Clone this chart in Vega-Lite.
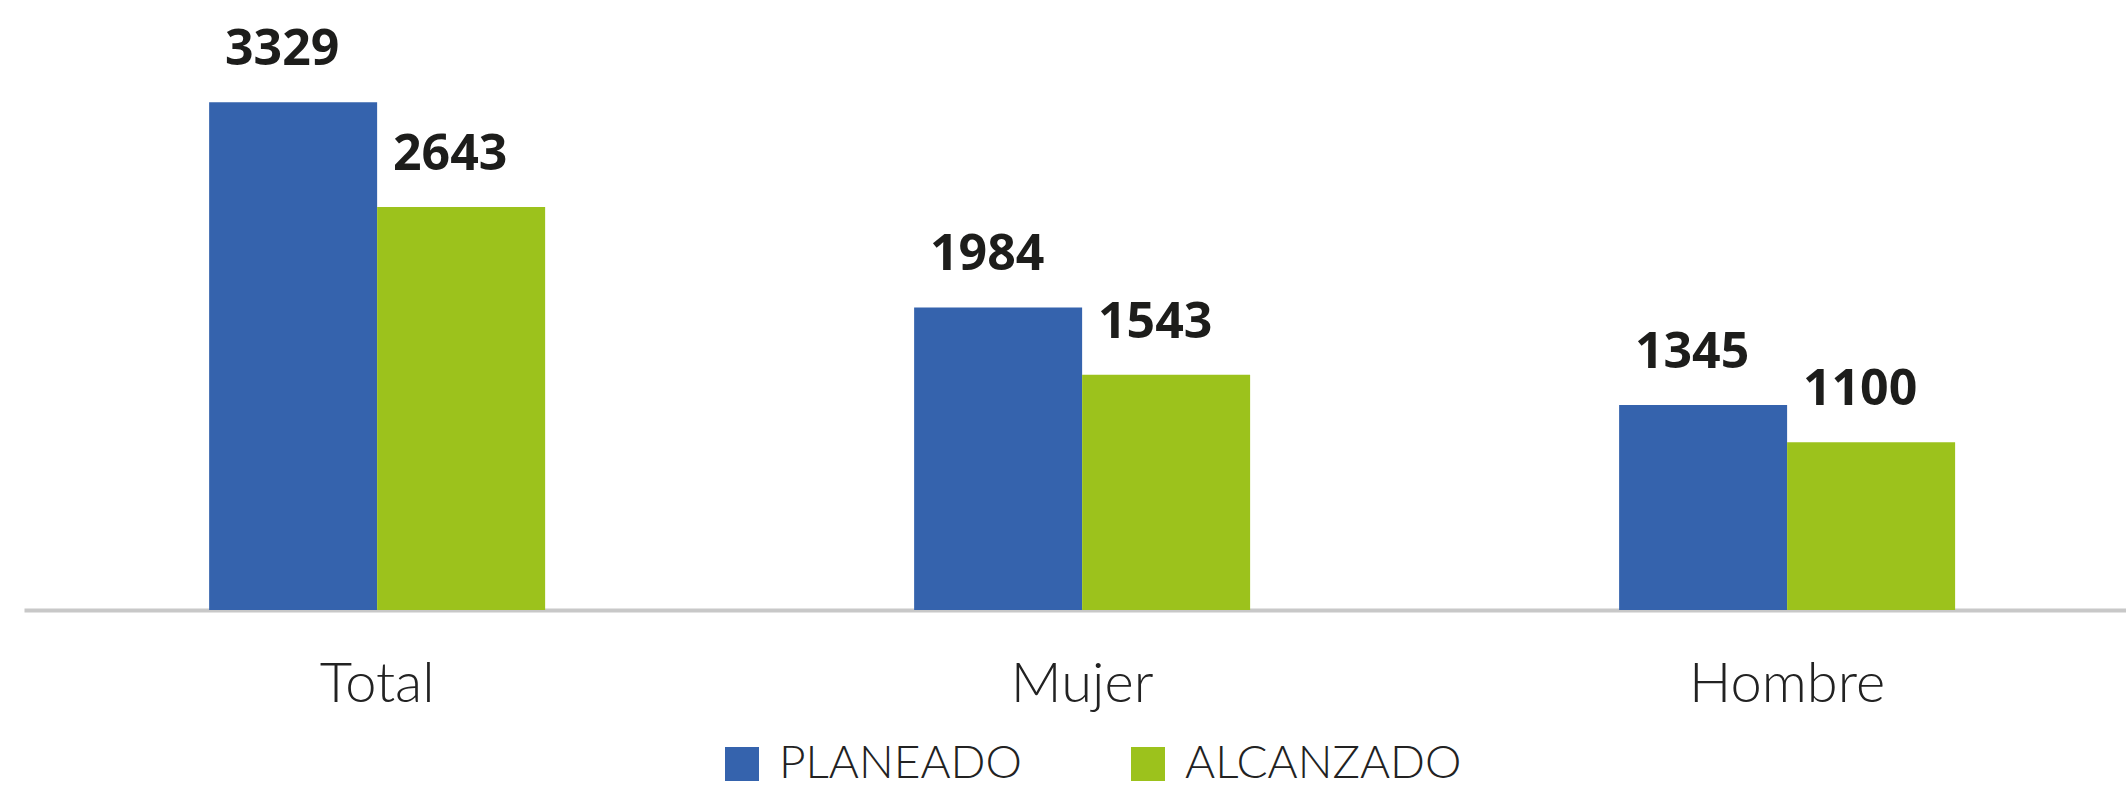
{
  "$schema": "https://vega.github.io/schema/vega-lite/v6.json",
  "width": 2102,
  "height": 549,
  "autosize": {"type": "none"},
  "padding": {"left": 24, "right": 0, "top": 61, "bottom": 180},
  "background": "white",
  "config": {"view": {"stroke": null}},
  "data": {
    "values": [
      {"categoria": "Total", "serie": "PLANEADO", "valor": 3329},
      {"categoria": "Total", "serie": "ALCANZADO", "valor": 2643},
      {"categoria": "Mujer", "serie": "PLANEADO", "valor": 1984},
      {"categoria": "Mujer", "serie": "ALCANZADO", "valor": 1543},
      {"categoria": "Hombre", "serie": "PLANEADO", "valor": 1345},
      {"categoria": "Hombre", "serie": "ALCANZADO", "valor": 1100}
    ]
  },
  "encoding": {
    "x": {
      "field": "categoria",
      "type": "nominal",
      "sort": ["Total", "Mujer", "Hombre"],
      "scale": {"paddingInner": 0.5234, "paddingOuter": 0.2525, "align": 0.52},
      "axis": {
        "title": null,
        "labelAngle": 0,
        "ticks": false,
        "tickSize": 0,
        "domainColor": "#c8c8c8",
        "domainWidth": 4,
        "labelFont": "Lato",
        "labelFontSize": 56,
        "labelFontWeight": 300,
        "labelColor": "#222222",
        "labelPadding": 91,
        "labelBaseline": "alphabetic",
        "labelLimit": 500
      }
    },
    "xOffset": {
      "field": "serie",
      "type": "nominal",
      "sort": ["PLANEADO", "ALCANZADO"],
      "scale": {"paddingInner": 0, "paddingOuter": 0}
    },
    "y": {
      "field": "valor",
      "type": "quantitative",
      "scale": {"domain": [0, 3600], "nice": false},
      "axis": null
    }
  },
  "layer": [
    {
      "mark": {"type": "bar"},
      "encoding": {
        "color": {
          "field": "serie",
          "type": "nominal",
          "sort": ["PLANEADO", "ALCANZADO"],
          "scale": {"domain": ["PLANEADO", "ALCANZADO"], "range": ["#3563ad", "#9cc21c"]},
          "legend": {
            "title": null,
            "orient": "none",
            "direction": "horizontal",
            "legendX": 695,
            "legendY": 680,
            "symbolType": "square",
            "symbolSize": 1156,
            "symbolStrokeWidth": 0,
            "symbolOpacity": 1,
            "labelFont": "Lato",
            "labelFontWeight": 300,
            "labelFontSize": 46,
            "labelColor": "#222222",
            "labelOffset": 14,
            "columnPadding": 103,
            "labelLimit": 600
          }
        }
      }
    },
    {
      "mark": {
        "type": "text",
        "baseline": "alphabetic",
        "align": "center",
        "dy": -37,
        "dx": -11,
        "font": "Open Sans",
        "fontWeight": "bold",
        "fontSize": 50,
        "color": "#1d1d1b"
      },
      "encoding": {"text": {"field": "valor", "type": "quantitative"}}
    }
  ]
}
